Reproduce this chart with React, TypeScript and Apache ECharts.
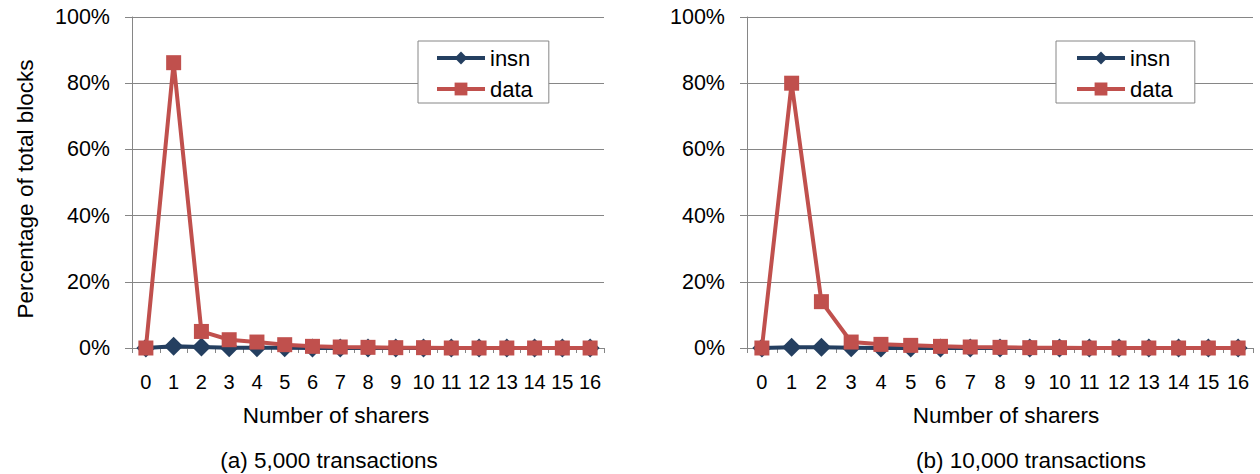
import React, { useEffect, useRef } from "react";
import * as echarts from "echarts";

// Number of sharers per cache block (x axis categories)
const sharers = ["0", "1", "2", "3", "4", "5", "6", "7", "8", "9", "10", "11", "12", "13", "14", "15", "16"];

// Percentage of total blocks, 5,000 transactions
const insn5k = [0, 0.5, 0.3, 0.1, 0.1, 0.1, 0, 0, 0, 0, 0, 0, 0, 0, 0, 0, 0];
const data5k = [0, 86.2, 5, 2.5, 1.8, 1, 0.5, 0.3, 0.2, 0.1, 0.1, 0, 0, 0, 0, 0, 0];

// Percentage of total blocks, 10,000 transactions
const insn10k = [0, 0.2, 0.2, 0.1, 0, 0, 0, 0, 0, 0, 0, 0, 0, 0, 0, 0, 0];
const data10k = [0, 80, 14, 1.8, 1.1, 0.8, 0.5, 0.3, 0.2, 0.1, 0.1, 0, 0, 0, 0, 0, 0];

const yTicks = [0, 20, 40, 60, 80, 100];

const FONT = "Liberation Sans, Arial, sans-serif";
const GRID_GRAY = "#868686";
const NAVY = "#243F60";
const RED = "#C0504D";

export default function App() {
  const ref = useRef<HTMLDivElement>(null);

  useEffect(() => {
    if (!ref.current) return;
    const chart = echarts.init(ref.current, undefined, { renderer: "svg" });

    const xAxisFor = (gridIndex: number) => ({
      type: "category" as const,
      gridIndex,
      data: sharers,
      boundaryGap: true,
      axisLine: { lineStyle: { color: GRID_GRAY, width: 1 } },
      axisTick: { show: true, length: 5, lineStyle: { color: GRID_GRAY } },
      axisLabel: { interval: 0, margin: 24, color: "#000", fontSize: 20, fontFamily: FONT },
      splitLine: { show: false },
    });

    const yAxisFor = (gridIndex: number) => ({
      type: "value" as const,
      gridIndex,
      min: yTicks[0],
      max: yTicks[yTicks.length - 1],
      interval: 20,
      axisLine: { show: true, lineStyle: { color: GRID_GRAY, width: 1 } },
      axisTick: { show: true, length: 7, lineStyle: { color: GRID_GRAY } },
      axisLabel: { margin: 22, color: "#000", fontSize: 21.5, fontFamily: FONT, formatter: "{value}%" },
      splitLine: { show: true, lineStyle: { color: GRID_GRAY, width: 1 } },
    });

    const lineSeries = (name: string, values: number[], idx: number, color: string, symbol: string, size: number) => ({
      name,
      type: "line" as const,
      xAxisIndex: idx,
      yAxisIndex: idx,
      data: values,
      symbol,
      symbolSize: size,
      clip: false,
      lineStyle: { color, width: 4 },
      itemStyle: { color },
      z: name === "data" ? 3 : 2,
    });

    const legendFor = (left: number, pad: number[]) => ({
      orient: "vertical" as const,
      left,
      top: 41,
      padding: pad,
      itemWidth: 48,
      itemHeight: 16,
      itemGap: 7,
      backgroundColor: "#fff",
      borderColor: GRID_GRAY,
      borderWidth: 1,
      lineStyle: { width: 4 },
      textStyle: { color: "#000", fontSize: 22, fontFamily: FONT, lineHeight: 24 },
      data: ["insn", "data"],
    });

    const textEl = (text: string, x: number, y: number, rotation = 0) => ({
      type: "text" as const,
      x,
      y,
      rotation,
      style: {
        text,
        fill: "#000",
        font: `22.5px ${FONT}`,
        textAlign: "center",
        textVerticalAlign: "middle",
      },
    });

    chart.setOption({
      animation: false,
      backgroundColor: "#fff",
      grid: [
        { left: 132, top: 17, width: 472, height: 331 },
        { left: 747, top: 17, width: 506, height: 331 },
      ],
      xAxis: [xAxisFor(0), xAxisFor(1)],
      yAxis: [yAxisFor(0), yAxisFor(1)],
      legend: [legendFor(418, [5, 16, 2, 17]), legendFor(1056, [5, 22, 2, 19])],
      series: [
        lineSeries("insn", insn5k, 0, NAVY, "diamond", 19),
        lineSeries("data", data5k, 0, RED, "rect", 15),
        lineSeries("insn", insn10k, 1, NAVY, "diamond", 19),
        lineSeries("data", data10k, 1, RED, "rect", 15),
      ],
      graphic: [
        textEl("Percentage of total blocks", 25, 189, Math.PI / 2),
        textEl("Number of sharers", 336, 415),
        textEl("Number of sharers", 1006, 415),
        textEl("(a) 5,000 transactions", 329, 460),
        textEl("(b) 10,000 transactions", 1031, 460),
      ],
    });

    return () => chart.dispose();
  }, []);

  return (
    <div
      ref={ref}
      style={{ position: "fixed", left: 0, top: 0, width: 1260, height: 474, background: "#fff" }}
    />
  );
}
